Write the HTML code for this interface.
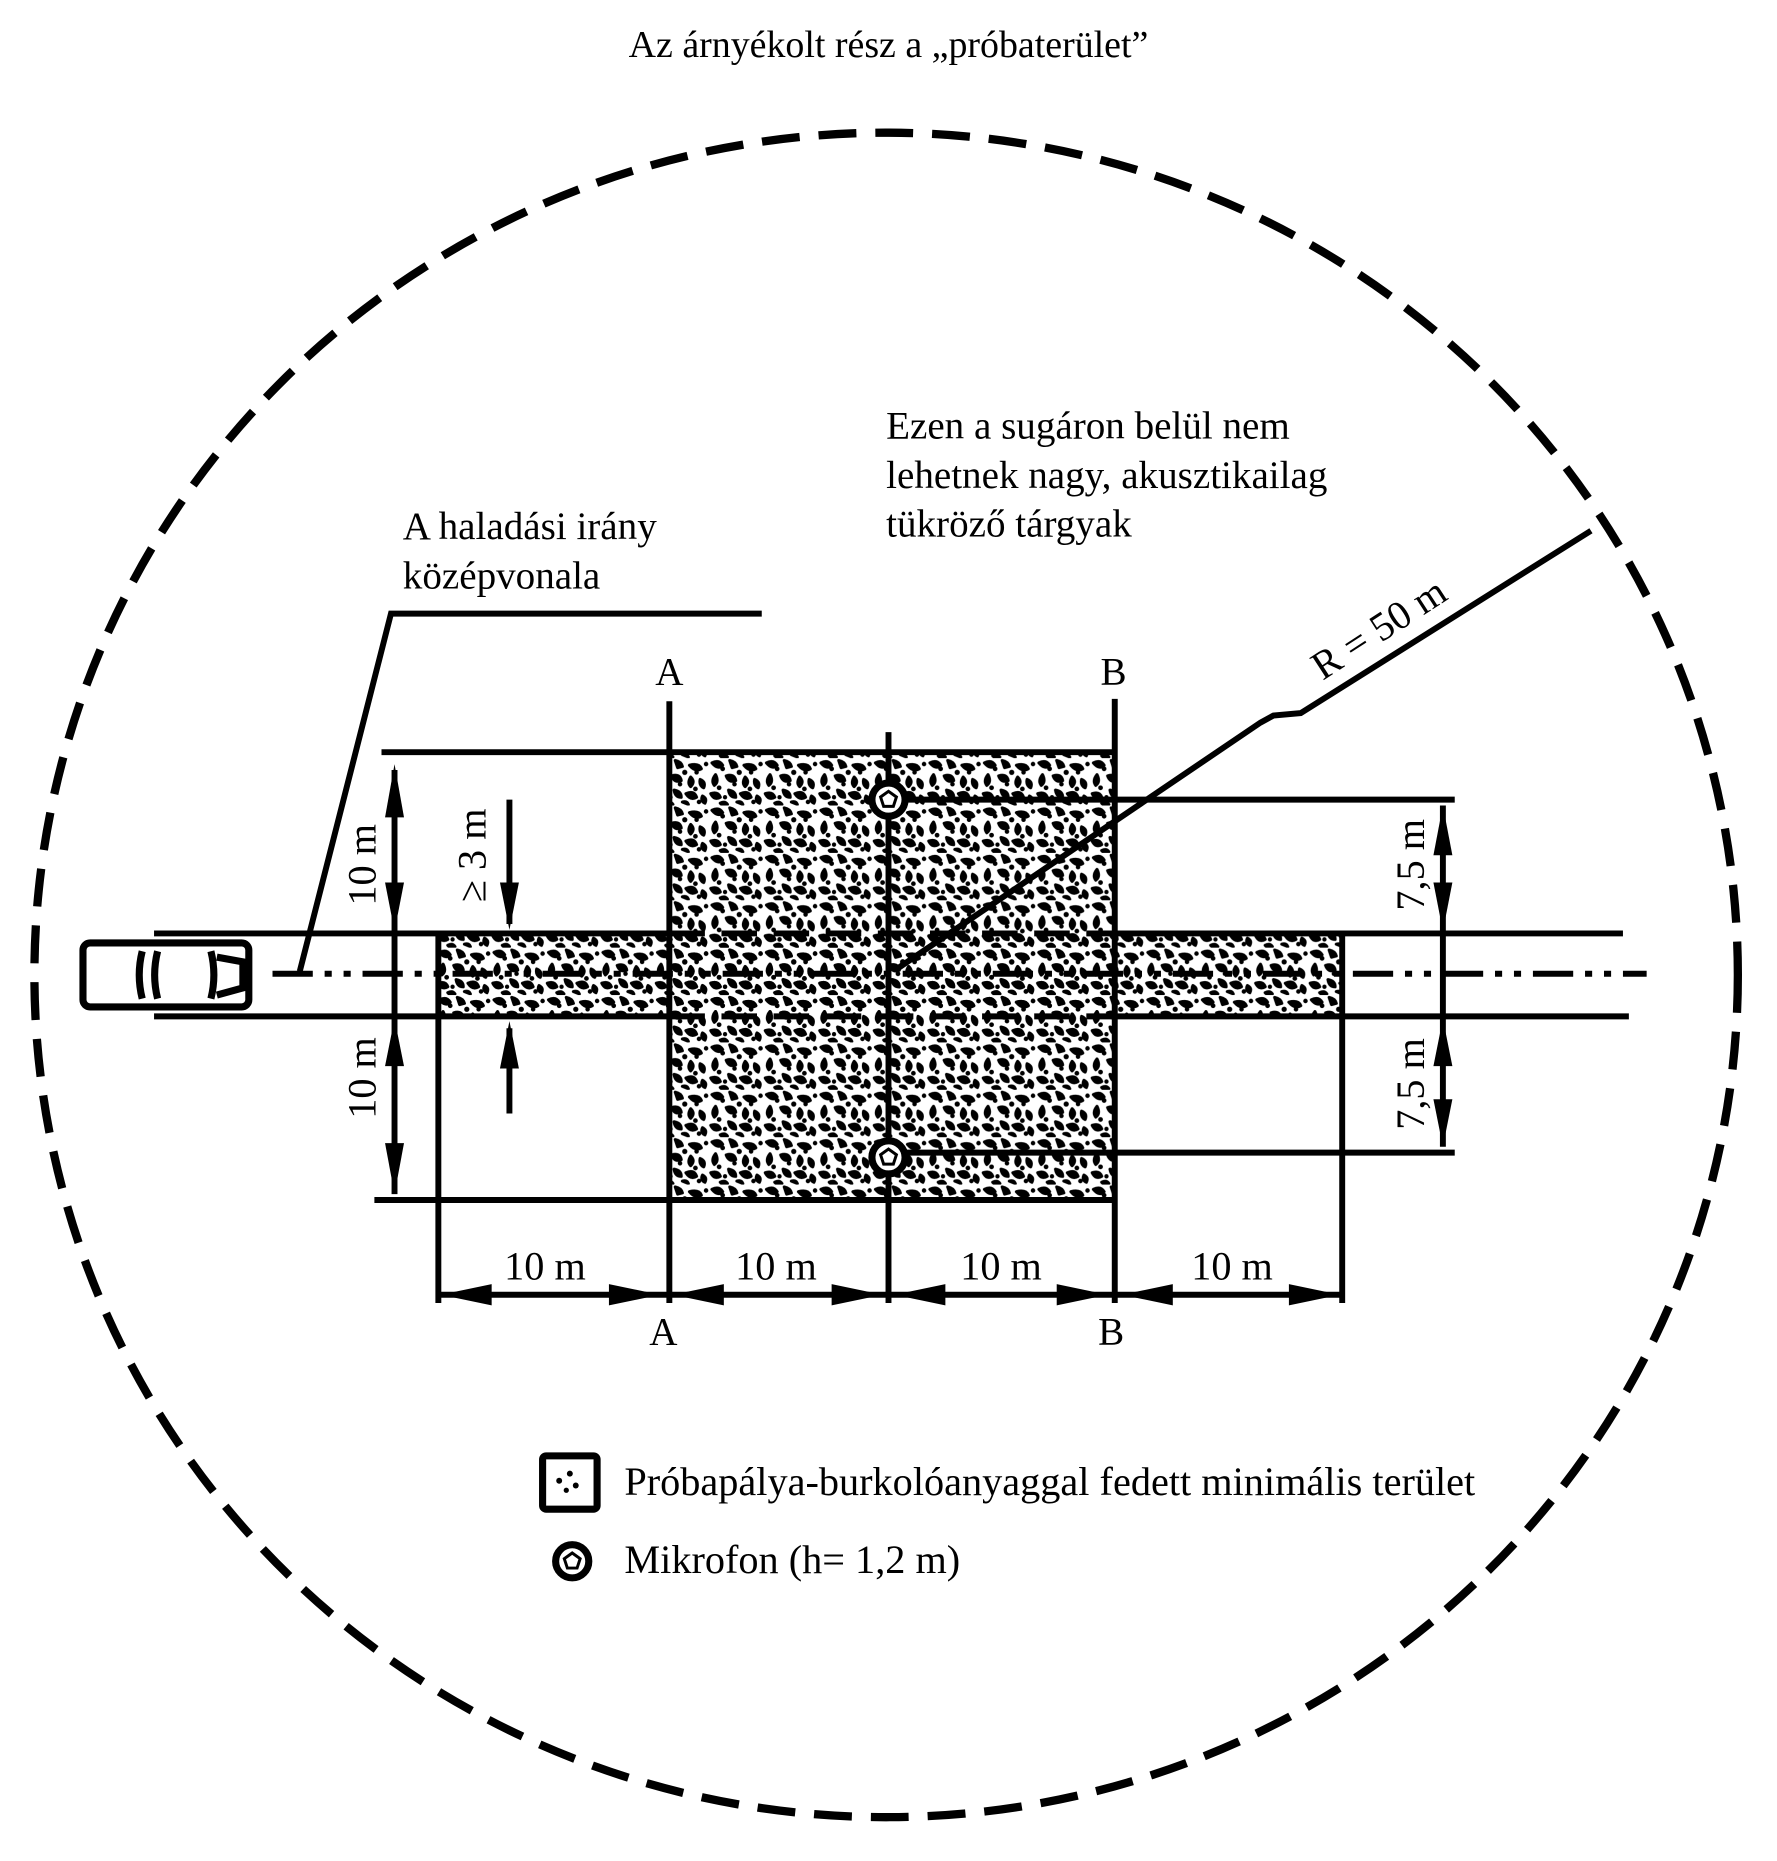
<!DOCTYPE html>
<html><head><meta charset="utf-8"><style>
html,body{margin:0;padding:0;background:#fff;}
svg{display:block;}
text{font-family:"Liberation Serif",serif;fill:#000;}
</style></head><body>
<svg width="1777" height="1861" viewBox="0 0 1500 1571" xmlns="http://www.w3.org/2000/svg">
<defs>
<pattern id="tex" width="46" height="40" patternUnits="userSpaceOnUse">
<g fill="#000" stroke="#000" stroke-width="2.6" stroke-linejoin="round">
<path d="M3 4 q6 -3 9 2 q-4 4 -9 -2z M18 2 q5 1 6 5 l-4 1z M30 6 q8 -2 10 3 q-5 3 -10 -3z M6 14 q3 6 -1 9 q-3 -4 1 -9z M15 15 q7 -2 8 4 q-6 2 -8 -4z M31 16 q4 4 0 8 q-3 -3 0 -8z M39 18 q5 2 3 7 q-4 -2 -3 -7z M2 30 q6 -2 8 3 q-5 3 -8 -3z M17 27 q6 1 6 6 q-5 0 -6 -6z M27 30 q7 -3 9 3 q-5 3 -9 -3z M41 32 q4 2 2 6 q-4 -2 -2 -6z M10 38 q4 -2 6 1 q-3 2 -6 -1z M24 37 q4 -1 5 2z"/>
</g>
<g fill="#000">
<circle cx="12" cy="9" r="2"/><circle cx="26" cy="12" r="2.2"/><circle cx="36" cy="12" r="1.9"/><circle cx="9" cy="25" r="2"/><circle cx="22" cy="22" r="1.9"/><circle cx="44" cy="5" r="1.9"/><circle cx="35" cy="26" r="2"/><circle cx="14" cy="33" r="1.8"/><circle cx="38" cy="37" r="1.9"/>
</g>
</pattern>
<g id="mic"><circle r="14" fill="#fff" stroke="#000" stroke-width="6"/><polygon points="0,-7 6.7,-2.2 4.1,5.7 -4.1,5.7 -6.7,-2.2" fill="#fff" stroke="#000" stroke-width="2.5"/></g>
</defs>

<text x="750" y="48" font-size="32" text-anchor="middle">Az árnyékolt rész a „próbaterület”</text>

<ellipse cx="748" cy="823" rx="719" ry="711" fill="none" stroke="#000" stroke-width="7" stroke-dasharray="32 16"/>

<text x="748" y="370" font-size="33">Ezen a sugáron belül nem</text>
<text x="748" y="412" font-size="33">lehetnek nagy, akusztikailag</text>
<text x="748" y="453" font-size="33">tükröző tárgyak</text>
<text x="340" y="455" font-size="33">A haladási irány</text>
<text x="340" y="497" font-size="33">középvonala</text>

<rect x="565" y="637" width="376" height="376" fill="url(#tex)"/>
<rect x="370" y="790" width="765" height="66" fill="url(#tex)"/>

<g stroke="#000" stroke-width="5" fill="none">
<polyline points="643,518 330,518 253,820"/>
<line x1="565" y1="592" x2="565" y2="1100"/>
<line x1="941" y1="590" x2="941" y2="1100"/>
<line x1="750" y1="618" x2="750" y2="1100"/>
<line x1="322" y1="635" x2="941" y2="635"/>
<line x1="316" y1="1013" x2="941" y2="1013"/>
<line x1="370" y1="788" x2="370" y2="1100"/>
<line x1="1133" y1="788" x2="1133" y2="1100"/>
<line x1="130" y1="788" x2="565" y2="788"/>
<line x1="941" y1="788" x2="1370" y2="788"/>
<line x1="130" y1="858" x2="565" y2="858"/>
<line x1="941" y1="858" x2="1375" y2="858"/>
<line x1="565" y1="788" x2="941" y2="788" stroke-dasharray="30 14"/>
<line x1="565" y1="858" x2="941" y2="858" stroke-dasharray="30 14"/>
<line x1="230" y1="822" x2="1390" y2="822" stroke-dasharray="34 10 6 10 6 10"/>
<line x1="750" y1="675" x2="1228" y2="675"/>
<line x1="750" y1="973" x2="1228" y2="973"/>
<polyline points="757,818 1064,610 1075,604 1098,602 1343,448"/>
<line x1="333" y1="650" x2="333" y2="1008"/>
<line x1="430" y1="675" x2="430" y2="780"/>
<line x1="430" y1="868" x2="430" y2="940"/>
<line x1="1218" y1="680" x2="1218" y2="968"/>
<line x1="372" y1="1093" x2="1131" y2="1093"/>
</g>
<g fill="#000">
<polygon points="333,645 325,690 341,690"/><polygon points="333,786 325,745 341,745"/>
<polygon points="333,860 325,900 341,900"/><polygon points="333,1008 325,965 341,965"/>
<polygon points="430,785 422,745 438,745"/><polygon points="430,862 422,902 438,902"/>
<polygon points="1218,680 1210,722 1226,722"/><polygon points="1218,786 1210,745 1226,745"/>
<polygon points="1218,860 1210,900 1226,900"/><polygon points="1218,968 1210,928 1226,928"/>
<polygon points="372,1093 415,1084 415,1102"/><polygon points="557,1093 514,1084 514,1102"/>
<polygon points="568,1093 611,1084 611,1102"/><polygon points="745,1093 702,1084 702,1102"/>
<polygon points="755,1093 798,1084 798,1102"/><polygon points="935,1093 892,1084 892,1102"/>
<polygon points="947,1093 990,1084 990,1102"/><polygon points="1131,1093 1088,1084 1088,1102"/>
</g>

<use href="#mic" x="750" y="675"/>
<use href="#mic" x="750" y="977"/>

<text x="565" y="578" font-size="33" text-anchor="middle">A</text>
<text x="940" y="578" font-size="33" text-anchor="middle">B</text>
<text x="560" y="1135" font-size="33" text-anchor="middle">A</text>
<text x="938" y="1135" font-size="33" text-anchor="middle">B</text>
<text x="460" y="1080" font-size="34" text-anchor="middle">10 m</text>
<text x="655" y="1080" font-size="34" text-anchor="middle">10 m</text>
<text x="845" y="1080" font-size="34" text-anchor="middle">10 m</text>
<text x="1040" y="1080" font-size="34" text-anchor="middle">10 m</text>
<text font-size="34" text-anchor="middle" transform="translate(317,730) rotate(-90)">10 m</text>
<text font-size="34" text-anchor="middle" transform="translate(317,910) rotate(-90)">10 m</text>
<text font-size="34" text-anchor="middle" transform="translate(410,722) rotate(-90)">≥ 3 m</text>
<text font-size="34" text-anchor="middle" transform="translate(1202,730) rotate(-90)">7,5 m</text>
<text font-size="34" text-anchor="middle" transform="translate(1202,915) rotate(-90)">7,5 m</text>
<text font-size="34" text-anchor="middle" transform="translate(1170,540) rotate(-33)">R = 50 m</text>

<g stroke="#000" fill="none" stroke-width="6">
<rect x="70" y="796" width="140" height="54" rx="6"/>
<path d="M120 803 q-5 20 0 40 M133 803 q-5 20 0 40 M178 803 q5 20 0 40 M183 808 L205 812 L205 834 L183 840"/>
</g>

<rect x="458" y="1229" width="46" height="45" rx="3" fill="#fff" stroke="#000" stroke-width="6"/>
<circle cx="472" cy="1250" r="2.5"/><circle cx="481" cy="1244" r="2.5"/><circle cx="486" cy="1254" r="2.5"/><circle cx="478" cy="1258" r="2.2"/>
<text x="527" y="1262" font-size="34">Próbapálya-burkolóanyaggal fedett minimális terület</text>
<use href="#mic" x="483" y="1318"/>
<text x="527" y="1328" font-size="34">Mikrofon (h= 1,2 m)</text>
</svg>
</body></html>
